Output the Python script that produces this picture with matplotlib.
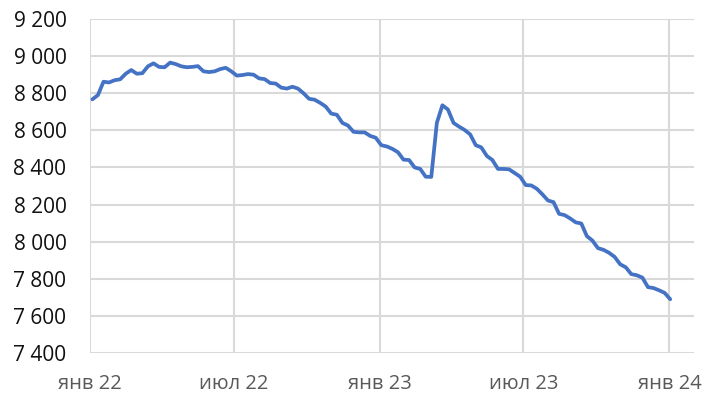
import numpy as np
import pandas as pd
import matplotlib
matplotlib.use("Agg")
import matplotlib.pyplot as plt
import matplotlib.dates as mdates
from matplotlib.ticker import FuncFormatter

plt.rcParams["font.family"] = ["Open Sans", "DejaVu Sans"]

# weekly series
start_date = "2022-01-04"
values = [
    8767, 8790, 8862, 8858, 8870, 8875, 8905, 8925, 8905, 8908,
    8945, 8961, 8942, 8940, 8965, 8957, 8945, 8940, 8942, 8946,
    8918, 8914, 8918, 8930, 8937, 8918, 8895, 8898, 8903, 8900,
    8880, 8876, 8855, 8852, 8830, 8825, 8835, 8825, 8800, 8770,
    8765, 8748, 8728, 8690, 8684, 8640, 8626, 8592, 8589, 8589,
    8570, 8560, 8520, 8513, 8500, 8482, 8442, 8440, 8400, 8392,
    8350, 8349, 8640, 8735, 8712, 8640, 8620, 8602, 8578, 8520,
    8508, 8462, 8440, 8392, 8392, 8390, 8370, 8350, 8305, 8303,
    8285, 8255, 8222, 8213, 8150, 8143, 8125, 8104, 8098, 8030,
    8006, 7965, 7956, 7940, 7918, 7878, 7862, 7825, 7819, 7806,
    7755, 7750, 7738, 7724, 7690,
]
dates = pd.date_range(start_date, periods=len(values), freq="7D")

tick_dates = pd.to_datetime(["2022-01-01", "2022-07-01", "2023-01-01",
                             "2023-07-01", "2024-01-01"])
tick_labels = ["янв 22", "июл 22", "янв 23", "июл 23", "янв 24"]
y_ticks = [7400, 7600, 7800, 8000, 8200, 8400, 8600, 8800, 9000, 9200]

fig = plt.figure(figsize=(7.05, 3.93), dpi=100)
ax = fig.add_axes([90 / 705, 1 - 353 / 393, (694 - 90) / 705, (353 - 19) / 393])

ax.plot(dates, values, color="#4472C4", lw=2.7, solid_joinstyle="round",
        solid_capstyle="round", zorder=3)

ax.set_ylim(7400, 9200)
ax.set_xlim(pd.Timestamp("2022-01-01"), pd.Timestamp("2024-02-01"))
ax.set_yticks(y_ticks)
ax.yaxis.set_major_formatter(FuncFormatter(lambda v, p: f"{v:,.0f}".replace(",", " ")))
ax.set_xticks(mdates.date2num(tick_dates))
ax.set_xticklabels(tick_labels)

ax.grid(True, color="#d9d9d9", lw=1.5)
ax.set_axisbelow(True)
for s in ax.spines.values():
    s.set_visible(False)
ax.tick_params(axis="y", length=0, pad=17, labelsize=15, labelcolor="#111111")
ax.tick_params(axis="x", length=0, pad=15, labelsize=14.5, labelcolor="#595959")

fig.savefig("out.png", dpi=100)
